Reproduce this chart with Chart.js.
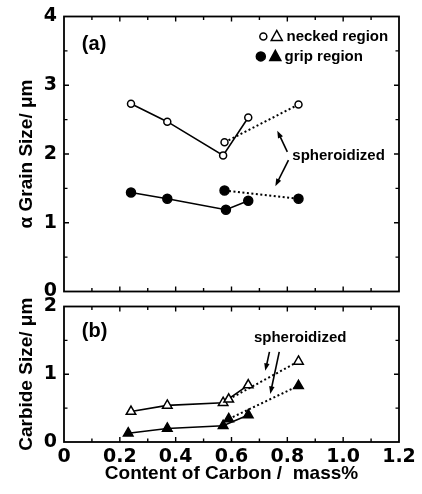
<!DOCTYPE html>
<html lang="en">
<head>
    <meta charset="UTF-8">
    <title>Grain and Carbide Size</title>
    <script src="https://cdn.jsdelivr.net/npm/chart.js"></script>
    <style>
        body { margin: 0; background: #fff; }
        #wrap { position: relative; width: 422px; height: 494px; }
        canvas { position: absolute; left: 0; }
        #grainChart { top: 0; }
        #carbideChart { top: 290px; }
    </style>
</head>
<body>
<div id="wrap">
    <canvas id="grainChart" width="422" height="308"></canvas>
    <canvas id="carbideChart" width="422" height="204"></canvas>
</div>
<script>
// carbon content (mass%) and sizes (um)
const grainNeckedX = [0.24, 0.37, 0.57, 0.66];
const grainNeckedY = [2.73, 2.47, 1.98, 2.53];
const grainNeckedSphX = [0.575, 0.84];
const grainNeckedSphY = [2.17, 2.72];
const grainGripX = [0.24, 0.37, 0.58, 0.66];
const grainGripY = [1.44, 1.35, 1.19, 1.32];
const grainGripSphX = [0.575, 0.84];
const grainGripSphY = [1.47, 1.35];

const carbNeckedX = [0.24, 0.37, 0.57, 0.66];
const carbNeckedY = [0.45, 0.54, 0.58, 0.84];
const carbNeckedSphX = [0.59, 0.84];
const carbNeckedSphY = [0.63, 1.19];
const carbGripX = [0.23, 0.37, 0.57, 0.66];
const carbGripY = [0.13, 0.20, 0.24, 0.40];
const carbGripSphX = [0.59, 0.84];
const carbGripSphY = [0.34, 0.83];

const xTicks = [0, 0.2, 0.4, 0.6, 0.8, 1.0, 1.2];
const grainTicks = [0, 1, 2, 3, 4];
const carbideTicks = [0, 1, 2];

const tickFont = { family: 'DejaVu Sans', weight: 'bold', size: 19, lineHeight: 1 };
const titleFont = { family: 'Liberation Sans', weight: 'bold', size: 19 };
const noteFont = 'bold 15px "Liberation Sans"';

function pts(xs, ys) {
    return xs.map((x, i) => ({ x: x, y: ys[i] }));
}

function series(xs, ys, style, filled, dashed) {
    return {
        data: pts(xs, ys),
        showLine: true,
        borderColor: '#000',
        borderWidth: dashed ? 2 : 1.6,
        borderDash: dashed ? [2, 2.5] : [],
        pointStyle: style,
        pointRadius: style === 'triangle' ? 5.5 : (filled ? 4.5 : 3.5),
        pointBorderWidth: 1.5,
        pointBorderColor: '#000',
        pointBackgroundColor: filled ? '#000' : '#fff'
    };
}

function drawArrow(ctx, x1, y1, x2, y2) {
    const a = Math.atan2(y2 - y1, x2 - x1);
    ctx.beginPath();
    ctx.moveTo(x1, y1);
    ctx.lineTo(x2 - 5 * Math.cos(a), y2 - 5 * Math.sin(a));
    ctx.lineWidth = 1.6;
    ctx.stroke();
    ctx.beginPath();
    ctx.moveTo(x2, y2);
    ctx.lineTo(x2 - 8 * Math.cos(a - 0.35), y2 - 8 * Math.sin(a - 0.35));
    ctx.lineTo(x2 - 8 * Math.cos(a + 0.35), y2 - 8 * Math.sin(a + 0.35));
    ctx.closePath();
    ctx.fill();
}

// frame, inward ticks and the notes
const framePlugin = {
    id: 'frame',
    afterDraw(chart, args, opts) {
        const ctx = chart.ctx;
        const area = chart.chartArea;
        const xs = chart.scales.x, ys = chart.scales.y;
        ctx.save();
        ctx.strokeStyle = '#000';
        ctx.fillStyle = '#000';
        ctx.lineWidth = 1.8;
        ctx.strokeRect(area.left, area.top, area.right - area.left, area.bottom - area.top);
        ctx.lineWidth = 1.4;
        ctx.beginPath();
        for (let i = 1; i < 12; i++) {
            const px = xs.getPixelForValue(i / 10);
            const len = i % 2 === 0 ? 5 : 3.5;
            ctx.moveTo(px, area.bottom); ctx.lineTo(px, area.bottom - len);
            ctx.moveTo(px, area.top); ctx.lineTo(px, area.top + len);
        }
        for (let v = 0.5; v < ys.max; v += 0.5) {
            const py = ys.getPixelForValue(v);
            const len = v % 1 === 0 ? 5 : 3.5;
            ctx.moveTo(area.left, py); ctx.lineTo(area.left + len, py);
            ctx.moveTo(area.right, py); ctx.lineTo(area.right - len, py);
        }
        ctx.stroke();

        ctx.textBaseline = 'middle';
        (opts.texts || []).forEach(t => {
            ctx.font = t.font || noteFont;
            ctx.textAlign = t.align || 'left';
            ctx.fillText(t.text, xs.getPixelForValue(t.x), ys.getPixelForValue(t.y));
        });
        (opts.arrows || []).forEach(a => {
            drawArrow(ctx, xs.getPixelForValue(a[0]), ys.getPixelForValue(a[1]),
                xs.getPixelForValue(a[2]), ys.getPixelForValue(a[3]));
        });
        (opts.marks || []).forEach(m => {
            const px = xs.getPixelForValue(m.x), py = ys.getPixelForValue(m.y);
            ctx.beginPath();
            if (m.style === 'circle') {
                ctx.arc(px, py, m.filled ? 4.5 : 3.5, 0, Math.PI * 2);
            } else {
                ctx.moveTo(px, py - 6);
                ctx.lineTo(px + 5.5, py + 4);
                ctx.lineTo(px - 5.5, py + 4);
                ctx.closePath();
            }
            ctx.fillStyle = m.filled ? '#000' : '#fff';
            ctx.fill();
            ctx.lineWidth = 1.5;
            ctx.stroke();
        });
        ctx.restore();
    }
};

function makeChart(id, datasets, yMax, yTicks, yTitle, showX, notes, pad) {
    return new Chart(document.getElementById(id), {
        type: 'scatter',
        data: { datasets: datasets },
        plugins: [framePlugin],
        options: {
            responsive: false,
            animation: false,
            layout: { padding: pad },
            plugins: { legend: { display: false }, tooltip: { enabled: false }, frame: notes },
            scales: {
                x: {
                    min: 0, max: 1.2,
                    afterBuildTicks: s => { s.ticks = xTicks.map(v => ({ value: v })); },
                    afterFit: s => { s.height = showX ? 52 : 0; },
                    grid: { display: false, drawTicks: false },
                    border: { display: false },
                    ticks: {
                        display: showX, color: '#000', font: tickFont, padding: 6,
                        maxRotation: 0,
                        callback: v => (v === 0 ? '0' : v.toFixed(1))
                    },
                    title: {
                        display: showX, text: 'Content of Carbon /  mass%',
                        color: '#000', font: titleFont, padding: { top: 0, bottom: 9 }
                    }
                },
                y: {
                    min: 0, max: yMax,
                    afterBuildTicks: s => { s.ticks = yTicks.map(v => ({ value: v })); },
                    afterFit: s => { s.width = 64; },
                    grid: { display: false, drawTicks: false },
                    border: { display: false },
                    ticks: { color: '#000', font: tickFont, padding: 7 },
                    title: {
                        display: true, text: yTitle, color: '#000', font: titleFont,
                        padding: { top: 15, bottom: 0 }
                    }
                }
            }
        }
    });
}

makeChart('grainChart', [
    series(grainNeckedSphX, grainNeckedSphY, 'circle', false, true),
    series(grainGripSphX, grainGripSphY, 'circle', true, true),
    series(grainNeckedX, grainNeckedY, 'circle', false, false),
    series(grainGripX, grainGripY, 'circle', true, false)
], 4, grainTicks, '\u03b1 Grain Size/ \u03bcm', false, {
    texts: [
        { text: '(a)', x: 0.064, y: 3.59, font: 'bold 20px "Liberation Sans"' },
        { text: 'necked region', x: 0.797, y: 3.71 },
        { text: 'grip region', x: 0.79, y: 3.42 },
        { text: 'spheroidized', x: 0.818, y: 1.97 }
    ],
    marks: [
        { x: 0.714, y: 3.71, style: 'circle', filled: false },
        { x: 0.762, y: 3.71, style: 'triangle', filled: false },
        { x: 0.705, y: 3.42, style: 'circle', filled: true },
        { x: 0.757, y: 3.42, style: 'triangle', filled: true }
    ],
    arrows: [
        [0.80, 2.03, 0.764, 2.34],
        [0.804, 1.91, 0.757, 1.53]
    ]
}, { left: 0, right: 23, top: 15, bottom: 3 });

makeChart('carbideChart', [
    series(carbNeckedSphX, carbNeckedSphY, 'triangle', false, true),
    series(carbGripSphX, carbGripSphY, 'triangle', true, true),
    series(carbNeckedX, carbNeckedY, 'triangle', false, false),
    series(carbGripX, carbGripY, 'triangle', true, false)
], 2, carbideTicks, 'Carbide Size/ \u03bcm', true, {
    texts: [
        { text: '(b)', x: 0.064, y: 1.63, font: 'bold 20px "Liberation Sans"' },
        { text: 'spheroidized', x: 0.846, y: 1.53, align: 'center' }
    ],
    arrows: [
        [0.736, 1.33, 0.721, 1.05],
        [0.771, 1.33, 0.739, 0.71]
    ]
}, { left: 0, right: 23, top: 14, bottom: 0 });
</script>
</body>
</html>
